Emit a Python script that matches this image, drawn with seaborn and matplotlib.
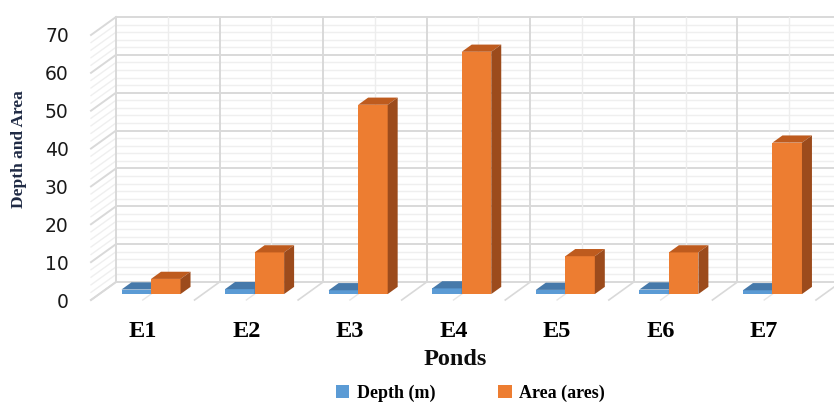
import matplotlib
matplotlib.use("Agg")
import matplotlib.pyplot as plt
from matplotlib.patches import Polygon
import pandas as pd
import seaborn as sns

# values
ponds = ["E1", "E2", "E3", "E4", "E5", "E6", "E7"]
depth_m = [1.2, 1.3, 1.0, 1.5, 1.1, 1.2, 1.0]
area_ares = [4, 11, 50, 64, 10, 11, 40]
series_names = ["Depth (m)", "Area (ares)"]
y_ticks = [0, 10, 20, 30, 40, 50, 60, 70]

FRONT = {"Depth (m)": "#5B9BD5", "Area (ares)": "#ED7D31"}
TOP = {"Depth (m)": "#4679AA", "Area (ares)": "#BE5B1E"}
SIDE = {"Depth (m)": "#3E6A96", "Area (ares)": "#9C4B1C"}

# oblique depth of the walls (data units), bar position / thickness in depth
DX, DY = 0.241, 4.75
BAR_AT, BAR_DEPTH = 0.33, 0.40
SERIF = "Liberation Serif"


def draw_walls(ax):
    """Back wall, left wall and floor grid of the fake 3D box"""
    x0, x1 = -0.5, len(ponds) - 0.5
    for y in range(0, 71, 2):
        major = y % 10 == 0
        col, lw = ("#D9D9D9", 1.4) if major else ("#EFEFEF", 1.0)
        ax.plot([x0 + DX, x1 + DX], [y + DY, y + DY], color=col, lw=lw,
                clip_on=False, zorder=1)
        ax.plot([x0, x0 + DX], [y, y + DY], color=col, lw=lw,
                clip_on=False, zorder=1)
    for i in range(len(ponds) + 1):
        xb = x0 + i
        ax.plot([xb + DX, xb + DX], [DY, 70 + DY], color="#D9D9D9", lw=1.4,
                clip_on=False, zorder=1)
        ax.plot([xb, xb + DX], [0, DY], color="#D9D9D9", lw=1.2,
                clip_on=False, zorder=1)
        if i < len(ponds):
            xc = xb + 0.5
            ax.plot([xc + DX, xc + DX], [DY, 70 + DY], color="#EDEDED",
                    lw=1.0, clip_on=False, zorder=1)
            ax.plot([xc, xc + DX], [0, DY], color="#E6E6E6", lw=1.0,
                    clip_on=False, zorder=1)


def make_3d(ax):
    """Push the seaborn bars into the box and add top and side faces"""
    bx, by = BAR_DEPTH * DX, BAR_DEPTH * DY
    for k, (cont, name) in enumerate(zip(ax.containers, series_names)):
        for bar in cont:
            x, w, h = bar.get_x(), bar.get_width(), bar.get_height()
            x += BAR_AT * DX
            y = BAR_AT * DY
            bar.set_x(x)
            bar.set_y(y)
            bar.set_zorder(3 + k)
            bar.set_linewidth(0)
            top = [(x, y + h), (x + w, y + h),
                   (x + w + bx, y + h + by), (x + bx, y + h + by)]
            side = [(x + w, y), (x + w, y + h),
                    (x + w + bx, y + h + by), (x + w + bx, y + by)]
            ax.add_patch(Polygon(top, closed=True, fc=TOP[name], lw=0,
                                 zorder=3 + k, clip_on=False))
            ax.add_patch(Polygon(side, closed=True, fc=SIDE[name], lw=0,
                                 zorder=3 + k, clip_on=False))


def main():
    df = pd.DataFrame({"pond": ponds, "Depth (m)": depth_m,
                       "Area (ares)": area_ares})
    df = df.melt("pond", var_name="series", value_name="value")

    fig = plt.figure(figsize=(8.34, 4.03), dpi=100)
    ax = fig.add_axes([91 / 834, 103 / 403, 725 / 834, 265 / 403])

    sns.barplot(df, x="pond", y="value", hue="series", hue_order=series_names,
                palette=[FRONT[n] for n in series_names], width=0.57,
                saturation=1, ax=ax)
    ax.set_xlim(-0.5, len(ponds) - 0.5)
    ax.set_ylim(0, 70)
    draw_walls(ax)
    make_3d(ax)

    for s in ax.spines.values():
        s.set_visible(False)
    ax.set_yticks(y_ticks)
    ax.tick_params(axis="both", length=0)
    ax.tick_params(axis="y", pad=16, labelsize=13.5, labelcolor="#1a1a1a")
    ax.tick_params(axis="x", pad=15)
    for lab in ax.get_xticklabels():
        lab.set_fontfamily(SERIF)
        lab.set_fontweight("bold")
        lab.set_fontsize(17.5)

    ax.set_xlabel("Ponds", fontfamily=SERIF, fontweight="bold", fontsize=17.5,
                  color="#0d0d0d")
    ax.xaxis.set_label_coords(0.503, -0.185)
    ax.set_ylabel("Depth and Area", fontfamily=SERIF, fontweight="bold",
                  fontsize=12.5, color="#1f2a44")
    ax.yaxis.set_label_coords(-0.088, 0.57)

    sns.move_legend(ax, "center", bbox_to_anchor=(0.564, 1 - 393 / 403),
                    bbox_transform=fig.transFigure, ncol=2, frameon=False,
                    title=None, handlelength=0.75, handleheight=0.75,
                    handletextpad=0.4, columnspacing=3.5,
                    prop={"family": SERIF, "weight": "bold", "size": 13})

    fig.savefig("out.png", dpi=100)


if __name__ == "__main__":
    main()
